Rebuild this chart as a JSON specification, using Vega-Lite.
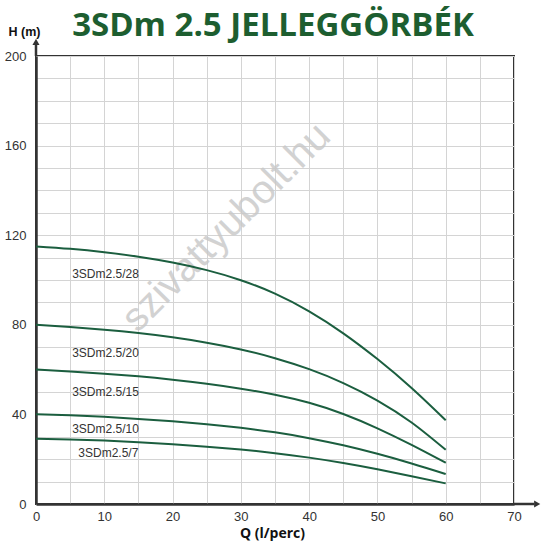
{
  "$schema": "https://vega.github.io/schema/vega-lite/v6.json",
  "width": 478,
  "height": 448,
  "autosize": "none",
  "padding": {"left": 36, "top": 56, "right": 31, "bottom": 42},
  "background": "white",
  "title": {
    "text": "3SDm 2.5 JELLEGGÖRBÉK",
    "font": "Open Sans",
    "fontSize": 33,
    "fontWeight": "bold",
    "color": "#1d5e30",
    "anchor": "middle",
    "frame": "group",
    "offset": 0,
    "dx": -2,
    "dy": 18
  },
  "config": {
    "view": {"stroke": "#333333", "strokeWidth": 2},
    "axis": {
      "labelFont": "Liberation Sans",
      "labelFontSize": 13,
      "labelColor": "#333333",
      "gridColor": "#d4d4d4",
      "gridWidth": 1,
      "gridOpacity": 1,
      "ticks": false,
      "domainColor": "#333333",
      "domainWidth": 2.5,
      "titleFont": "Open Sans",
      "titleFontWeight": "bold",
      "titleFontSize": 13,
      "titleColor": "#111111"
    }
  },
  "datasets": {
    "curves": [
      {"pump": "3SDm2.5/28", "Q": 0, "H": 115},
      {"pump": "3SDm2.5/28", "Q": 5, "H": 113.9},
      {"pump": "3SDm2.5/28", "Q": 10, "H": 112.4},
      {"pump": "3SDm2.5/28", "Q": 15, "H": 110.4},
      {"pump": "3SDm2.5/28", "Q": 20, "H": 107.8},
      {"pump": "3SDm2.5/28", "Q": 25, "H": 104.4},
      {"pump": "3SDm2.5/28", "Q": 30, "H": 99.9},
      {"pump": "3SDm2.5/28", "Q": 35, "H": 93.9},
      {"pump": "3SDm2.5/28", "Q": 40, "H": 86.0},
      {"pump": "3SDm2.5/28", "Q": 45, "H": 76.2},
      {"pump": "3SDm2.5/28", "Q": 50, "H": 64.7},
      {"pump": "3SDm2.5/28", "Q": 55, "H": 51.8},
      {"pump": "3SDm2.5/28", "Q": 60, "H": 37.4},
      {"pump": "3SDm2.5/20", "Q": 0, "H": 80},
      {"pump": "3SDm2.5/20", "Q": 5, "H": 79},
      {"pump": "3SDm2.5/20", "Q": 10, "H": 77.8},
      {"pump": "3SDm2.5/20", "Q": 15, "H": 76.3},
      {"pump": "3SDm2.5/20", "Q": 20, "H": 74.4},
      {"pump": "3SDm2.5/20", "Q": 25, "H": 72},
      {"pump": "3SDm2.5/20", "Q": 30, "H": 69},
      {"pump": "3SDm2.5/20", "Q": 35, "H": 65.1},
      {"pump": "3SDm2.5/20", "Q": 40, "H": 60.2},
      {"pump": "3SDm2.5/20", "Q": 45, "H": 54},
      {"pump": "3SDm2.5/20", "Q": 50, "H": 46.2},
      {"pump": "3SDm2.5/20", "Q": 55, "H": 36.4},
      {"pump": "3SDm2.5/20", "Q": 60, "H": 24.2},
      {"pump": "3SDm2.5/15", "Q": 0, "H": 60},
      {"pump": "3SDm2.5/15", "Q": 5, "H": 59.2},
      {"pump": "3SDm2.5/15", "Q": 10, "H": 58.2},
      {"pump": "3SDm2.5/15", "Q": 15, "H": 57},
      {"pump": "3SDm2.5/15", "Q": 20, "H": 55.5},
      {"pump": "3SDm2.5/15", "Q": 25, "H": 53.7},
      {"pump": "3SDm2.5/15", "Q": 30, "H": 51.5},
      {"pump": "3SDm2.5/15", "Q": 35, "H": 48.8},
      {"pump": "3SDm2.5/15", "Q": 40, "H": 45.2},
      {"pump": "3SDm2.5/15", "Q": 45, "H": 40.2},
      {"pump": "3SDm2.5/15", "Q": 50, "H": 33.8},
      {"pump": "3SDm2.5/15", "Q": 55, "H": 26.4},
      {"pump": "3SDm2.5/15", "Q": 60, "H": 18.4},
      {"pump": "3SDm2.5/10", "Q": 0, "H": 40.1},
      {"pump": "3SDm2.5/10", "Q": 5, "H": 39.6},
      {"pump": "3SDm2.5/10", "Q": 10, "H": 38.9},
      {"pump": "3SDm2.5/10", "Q": 15, "H": 38},
      {"pump": "3SDm2.5/10", "Q": 20, "H": 36.9},
      {"pump": "3SDm2.5/10", "Q": 25, "H": 35.6},
      {"pump": "3SDm2.5/10", "Q": 30, "H": 34},
      {"pump": "3SDm2.5/10", "Q": 35, "H": 32},
      {"pump": "3SDm2.5/10", "Q": 40, "H": 29.4},
      {"pump": "3SDm2.5/10", "Q": 45, "H": 26.2},
      {"pump": "3SDm2.5/10", "Q": 50, "H": 22.4},
      {"pump": "3SDm2.5/10", "Q": 55, "H": 18.1},
      {"pump": "3SDm2.5/10", "Q": 60, "H": 13.4},
      {"pump": "3SDm2.5/7", "Q": 0, "H": 29.1},
      {"pump": "3SDm2.5/7", "Q": 5, "H": 28.8},
      {"pump": "3SDm2.5/7", "Q": 10, "H": 28.3},
      {"pump": "3SDm2.5/7", "Q": 15, "H": 27.6},
      {"pump": "3SDm2.5/7", "Q": 20, "H": 26.7},
      {"pump": "3SDm2.5/7", "Q": 25, "H": 25.6},
      {"pump": "3SDm2.5/7", "Q": 30, "H": 24.3},
      {"pump": "3SDm2.5/7", "Q": 35, "H": 22.7},
      {"pump": "3SDm2.5/7", "Q": 40, "H": 20.7},
      {"pump": "3SDm2.5/7", "Q": 45, "H": 18.3},
      {"pump": "3SDm2.5/7", "Q": 50, "H": 15.5},
      {"pump": "3SDm2.5/7", "Q": 55, "H": 12.4},
      {"pump": "3SDm2.5/7", "Q": 60, "H": 9.2}
    ],
    "labels": [
      {"label": "3SDm2.5/28", "Q": 5.3, "H": 102.8},
      {"label": "3SDm2.5/20", "Q": 5.3, "H": 67.4},
      {"label": "3SDm2.5/15", "Q": 5.3, "H": 50.0},
      {"label": "3SDm2.5/10", "Q": 5.3, "H": 33.3},
      {"label": "3SDm2.5/7", "Q": 6.2, "H": 22.9}
    ],
    "watermark": [
      {"text": "szivattyubolt.hu", "Q": 27.9, "H": 123.4}
    ],
    "arrowLines": [
      {"Q": 70, "Q2": 73, "H": 0, "H2": 0},
      {"Q": 0, "Q2": 0, "H": 200, "H2": 205.5}
    ],
    "arrowHeads": [
      {"Q": 73.4, "H": 0, "dir": "triangle-right"},
      {"Q": 0, "H": 206.3, "dir": "triangle-up"}
    ]
  },
  "encoding": {
    "x": {
      "field": "Q",
      "type": "quantitative",
      "scale": {"domain": [0, 70], "nice": false, "zero": false},
      "axis": {
        "title": "Q (l/perc)",
        "values": [0, 5, 10, 15, 20, 25, 30, 35, 40, 45, 50, 55, 60, 65, 70],
        "labelExpr": "datum.value % 10 === 0 ? datum.label : ''",
        "labelPadding": 6,
        "labelFlush": false,
        "titleFontSize": 14,
        "titleY": 29,
        "titleBaseline": "middle",
        "titleX": 236
      }
    },
    "y": {
      "field": "H",
      "type": "quantitative",
      "scale": {"domain": [0, 200], "nice": false, "zero": false},
      "axis": {
        "title": "H (m)",
        "values": [0, 10, 20, 30, 40, 50, 60, 70, 80, 90, 100, 110, 120, 130, 140, 150, 160, 170, 180, 190, 200],
        "labelExpr": "datum.value % 40 === 0 ? datum.label : ''",
        "labelPadding": 10,
        "labelFlush": false,
        "titleAngle": 0,
        "titleAlign": "center",
        "titleBaseline": "middle",
        "titleX": -12,
        "titleY": -25,
        "titleFont": "Liberation Sans",
        "titleFontSize": 12.5
      }
    }
  },
  "layer": [
    {
      "data": {"name": "watermark"},
      "mark": {"type": "text", "font": "Liberation Sans", "fontSize": 40, "angle": -45, "color": "#c8c8c8", "opacity": 0.8, "align": "center", "baseline": "middle"},
      "encoding": {"text": {"field": "text"}}
    },
    {
      "data": {"name": "curves"},
      "mark": {"type": "line", "interpolate": "natural", "strokeWidth": 2, "color": "#1b5e3f"},
      "encoding": {"detail": {"field": "pump"}}
    },
    {
      "data": {"name": "labels"},
      "mark": {"type": "text", "font": "Liberation Sans", "fontSize": 12, "color": "#333333", "align": "left", "baseline": "middle"},
      "encoding": {"text": {"field": "label"}}
    },
    {
      "data": {"name": "arrowLines"},
      "mark": {"type": "rule", "color": "#333333", "strokeWidth": 2.5},
      "encoding": {"x2": {"field": "Q2"}, "y2": {"field": "H2"}}
    },
    {
      "data": {"name": "arrowHeads"},
      "mark": {"type": "point", "filled": true, "color": "#333333", "size": 50, "opacity": 1},
      "encoding": {"shape": {"field": "dir", "type": "nominal", "scale": null}}
    }
  ]
}
